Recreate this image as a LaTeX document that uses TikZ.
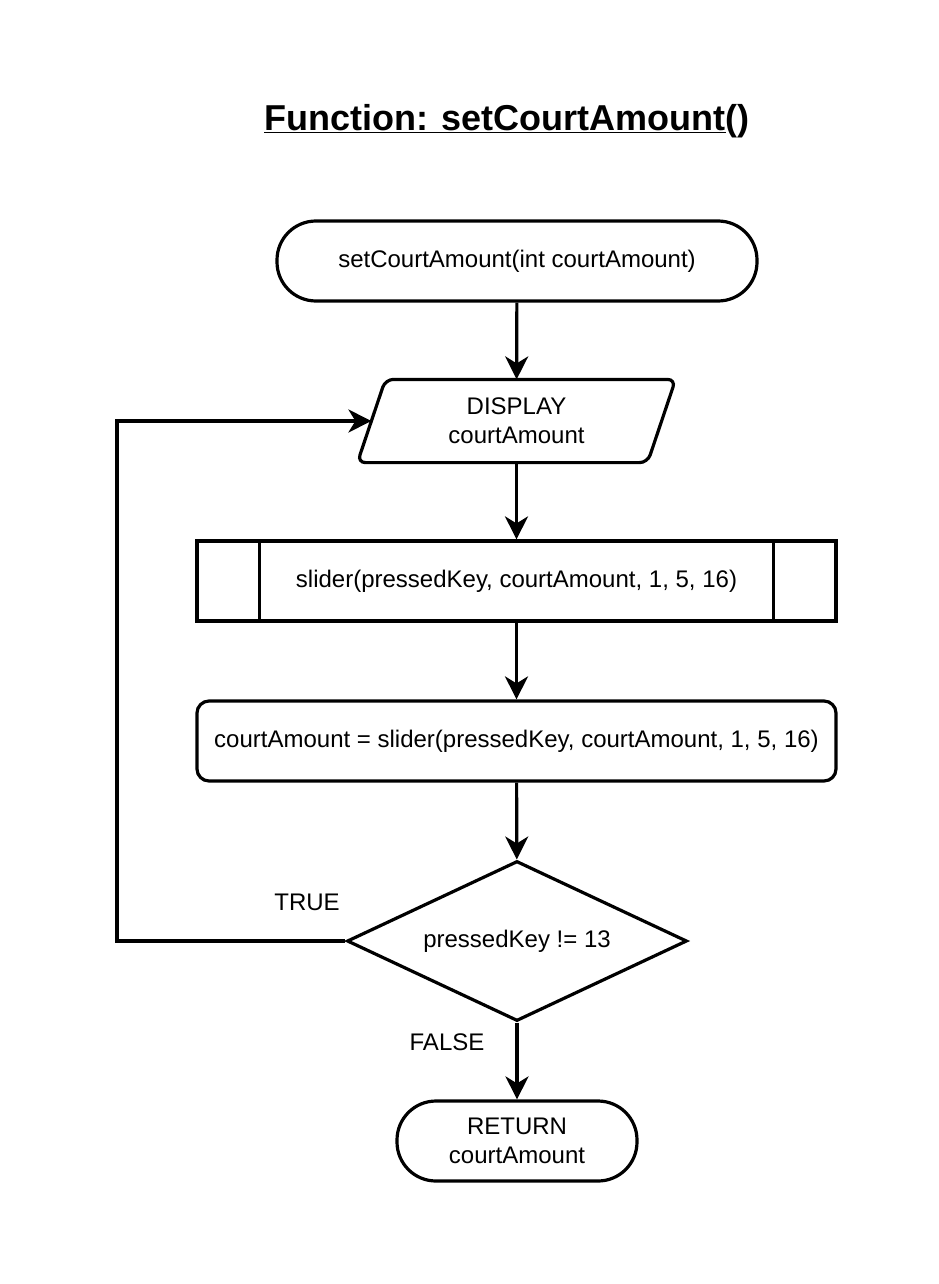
\documentclass[tikz,border=0pt]{standalone}
\usepackage{fontspec}
\setmainfont{Liberation Sans}
\usetikzlibrary{arrows.meta,shapes.geometric}
\begin{document}
\begin{tikzpicture}[x=1pt,y=-1pt,
  line width=3.2pt,
  every node/.style={font=\fontsize{24}{28.8}\selectfont, align=center, inner sep=0pt},
  term/.style={draw, rounded corners=39pt, minimum width=#1, minimum height=80pt},
  procbox/.style={draw, minimum width=639pt, minimum height=80pt},
  iobox/.style={minimum width=287pt, minimum height=80pt},
  decbox/.style={draw, diamond, aspect=2.125, minimum width=340pt, minimum height=160pt},
  conn/.style={-{Stealth[length=23pt,width=23pt,inset=7pt]}, line join=miter}
]
\useasboundingbox (0,0) rectangle (938,1284);

\node (title) at (507,121) {\fontsize{36}{43}\selectfont\bfseries\underline{Function: setCourtAmount}()};

\node[term=480pt] (s) at (517,261) {setCourtAmount(int courtAmount)};
\node[iobox] (d) at (516.5,421) {DISPLAY\\courtAmount};
\draw[rounded corners=8pt] ([xshift=14pt]d.north west) -- ([xshift=14pt]d.north east)
  -- ([xshift=-14pt]d.south east) -- ([xshift=-14pt]d.south west) -- cycle;
\node[procbox] (sub) at (516.5,581) {slider(pressedKey, courtAmount, 1, 5, 16)};
\draw ([xshift=64pt]sub.north west) -- ([xshift=64pt]sub.south west);
\draw ([xshift=-64pt]sub.north east) -- ([xshift=-64pt]sub.south east);
\node[procbox, rounded corners=12pt] (p) at (516.5,741) {courtAmount = slider(pressedKey, courtAmount, 1, 5, 16)};
\node[decbox] (dec) at (517,941) {pressedKey != 13};
\node[term=240pt] (r) at (517,1141) {RETURN\\courtAmount};

\node (t) at (307,902) {TRUE};
\node (f) at (447,1042) {FALSE};

\coordinate (lp) at (117,941);

\draw[conn] (s) -- (d);
\draw[conn] (d) -- (sub);
\draw[conn] (sub) -- (p);
\draw[conn] (p) -- (dec);
\draw[conn] (dec) -- (r);
\draw[conn] (dec.west) -- (lp) |- (d.west);
\end{tikzpicture}
\end{document}
